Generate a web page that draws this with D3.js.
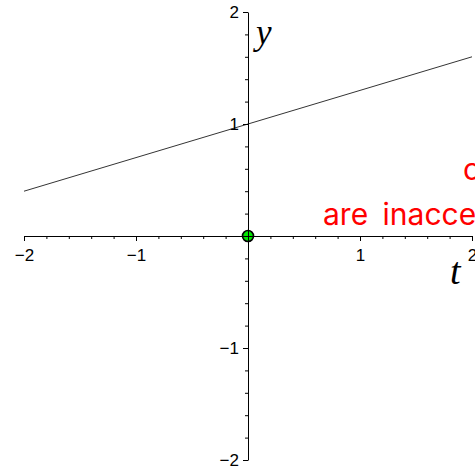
<!DOCTYPE html>
<html>
<head>
<meta charset="utf-8">
<script src="https://cdn.jsdelivr.net/npm/d3@7"></script>
<style>
  html, body { margin: 0; padding: 0; background: #fff; }
  svg { display: block; }
  .axis text { font-family: "Liberation Sans", Arial, sans-serif; font-size: 17px; fill: #000; }
  .axis path, .axis line { stroke: #000; stroke-width: 1; }
</style>
</head>
<body>
<svg id="chart" width="475" height="472"></svg>
<script>
// Solution curve y(t) = 1 + 0.3 t sampled at the ends of the window
const tValues = [-2, 2];
const yValues = [0.4, 1.6];

// Initial point
const pointT = [0];
const pointY = [0];

// Axis ticks
const majorTicks = [-2, -1, 1, 2];
const minorTicks = [-1.8, -1.6, -1.4, -1.2, -0.8, -0.6, -0.4, -0.2,
                    0.2, 0.4, 0.6, 0.8, 1.2, 1.4, 1.6, 1.8];

// Annotation lines
const noteLines = ["curves", "are inaccessible"];

const svg = d3.select("#chart");

const x = d3.scaleLinear().domain([-2, 2]).range([24, 472]);
const y = d3.scaleLinear().domain([-2, 2]).range([460, 12]);
const fmt = d3.format("d");

// initial point marker (drawn under the axes)
svg.selectAll("circle.pt")
  .data(pointT.map((t, i) => ({ t, y: pointY[i] })))
  .join("circle")
  .attr("class", "pt")
  .attr("cx", d => x(d.t))
  .attr("cy", d => y(d.y))
  .attr("r", 5.5)
  .attr("fill", "#00e600")
  .attr("stroke", "#000")
  .attr("stroke-width", 1.6);

// minor ticks
svg.append("g").attr("class", "axis")
  .attr("transform", `translate(0,${y(0)})`)
  .call(d3.axisBottom(x).tickValues(minorTicks).tickSize(3).tickSizeOuter(0).tickFormat(""))
  .call(g => g.select(".domain").remove());
svg.append("g").attr("class", "axis")
  .attr("transform", `translate(${x(0)},0)`)
  .call(d3.axisLeft(y).tickValues(minorTicks).tickSize(3).tickSizeOuter(0).tickFormat(""))
  .call(g => g.select(".domain").remove());

// major axes
svg.append("g").attr("class", "axis")
  .attr("transform", `translate(0,${y(0)})`)
  .call(d3.axisBottom(x).tickValues(majorTicks).tickFormat(fmt).tickSize(5).tickSizeOuter(0).tickPadding(8))
  .call(g => g.selectAll("text").attr("font-family", null).attr("font-size", null));
svg.append("g").attr("class", "axis")
  .attr("transform", `translate(${x(0)},0)`)
  .call(d3.axisLeft(y).tickValues(majorTicks).tickFormat(fmt).tickSize(5).tickSizeOuter(0).tickPadding(4))
  .call(g => g.selectAll("text").attr("font-family", null).attr("font-size", null));

// solution curve
const line = d3.line().x(d => x(d.t)).y(d => y(d.y));
svg.append("path")
  .datum(tValues.map((t, i) => ({ t, y: yValues[i] })))
  .attr("d", line)
  .attr("fill", "none")
  .attr("stroke", "#000")
  .attr("stroke-width", 0.8);

// axis titles
svg.append("text")
  .attr("x", x(0) + 8).attr("y", y(2) + 32)
  .attr("font-family", "'Liberation Serif', 'DejaVu Serif', serif")
  .attr("font-style", "italic")
  .attr("font-size", 35)
  .text("y");
svg.append("text")
  .attr("x", x(2) - 22).attr("y", y(0) + 48)
  .attr("font-family", "'Liberation Serif', 'DejaVu Serif', serif")
  .attr("font-style", "italic")
  .attr("font-size", 38)
  .text("t");

// red annotation
const noteX = [463, 323];
const noteY = [180, 225];
svg.selectAll("text.note")
  .data(noteLines)
  .join("text")
  .attr("class", "note")
  .attr("x", (d, i) => noteX[i])
  .attr("y", (d, i) => noteY[i])
  .attr("fill", "#ff0000")
  .attr("font-family", "Inter, 'Open Sans', sans-serif")
  .attr("font-size", 30)
  .attr("word-spacing", 6)
  .text(d => d);
</script>
</body>
</html>
